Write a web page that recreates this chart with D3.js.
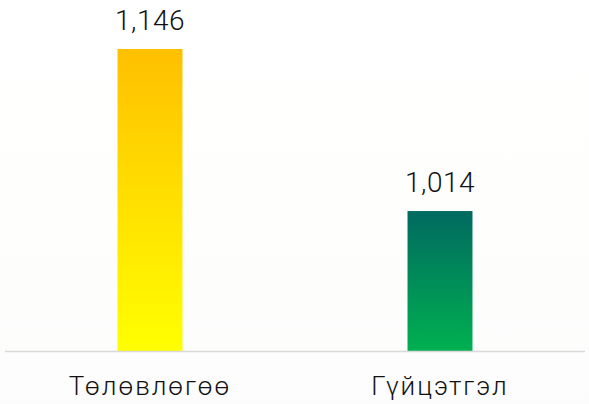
<!DOCTYPE html>
<html>
<head>
<meta charset="utf-8">
<script src="https://cdn.jsdelivr.net/npm/d3@7"></script>
<style>
  html, body { margin: 0; padding: 0; background: #fff; }
</style>
</head>
<body>
<div id="chart"></div>
<script>
// Chart data
const categories = ['Төлөвлөгөө', 'Гүйцэтгэл'];
const values = [1146, 1014];
const topColors = ['#ffc000', '#006a60'];
const bottomColors = ['#ffff00', '#00b050'];

const width = 589;
const height = 404;
const baseY = 351;

const svg = d3.select('#chart')
  .append('svg')
  .attr('width', width)
  .attr('height', height);

const defs = svg.append('defs');

// faint background tint
const bg = defs.append('linearGradient')
  .attr('id', 'bg')
  .attr('x1', 0).attr('y1', 0).attr('x2', 0).attr('y2', 1);
bg.append('stop').attr('offset', '0%').attr('stop-color', '#ffffff');
bg.append('stop').attr('offset', '55%').attr('stop-color', '#fefefd');
bg.append('stop').attr('offset', '100%').attr('stop-color', '#fbfcfb');

svg.append('rect')
  .attr('width', width)
  .attr('height', height)
  .attr('fill', 'url(#bg)');

// gradients for bars
categories.forEach((c, i) => {
  const g = defs.append('linearGradient')
    .attr('id', 'bar' + i)
    .attr('x1', 0).attr('y1', 0).attr('x2', 0).attr('y2', 1);
  g.append('stop').attr('offset', '0%').attr('stop-color', topColors[i]);
  g.append('stop').attr('offset', '100%').attr('stop-color', bottomColors[i]);
});

const x = d3.scaleBand()
  .domain(categories)
  .range([5, 585])
  .paddingInner(0.776)
  .paddingOuter(0.388);

const y = d3.scaleLinear()
  .domain([900, 1146])
  .range([baseY, 49]);

const data = categories.map((c, i) => ({ cat: c, value: values[i], i }));

// bars
svg.selectAll('rect.bar')
  .data(data)
  .enter()
  .append('rect')
  .attr('class', 'bar')
  .attr('x', d => x(d.cat))
  .attr('y', d => y(d.value))
  .attr('width', x.bandwidth())
  .attr('height', d => baseY - y(d.value))
  .attr('fill', d => 'url(#bar' + d.i + ')');

// baseline
svg.append('line')
  .attr('x1', 5)
  .attr('x2', 585)
  .attr('y1', baseY + 0.5)
  .attr('y2', baseY + 0.5)
  .attr('stroke', '#d9d9d9')
  .attr('stroke-width', 1.5);

// value labels
svg.selectAll('text.val')
  .data(data)
  .enter()
  .append('text')
  .attr('class', 'val')
  .attr('x', d => x(d.cat) + x.bandwidth() / 2)
  .attr('y', d => y(d.value) - 19)
  .attr('text-anchor', 'middle')
  .style('font-family', 'Roboto, sans-serif')
  .style('font-weight', 300)
  .style('font-size', '28px')
  .style('letter-spacing', '0.5px')
  .style('fill', '#111')
  .text(d => d3.format(',')(d.value));

// category labels
svg.append('g')
  .attr('transform', `translate(0,${baseY})`)
  .call(d3.axisBottom(x).tickSize(0).tickPadding(0))
  .call(g => g.select('.domain').remove())
  .selectAll('text')
  .attr('y', 44)
  .attr('dy', 0)
  .style('font-family', 'Roboto, sans-serif')
  .style('font-weight', 300)
  .style('font-size', '26px')
  .style('letter-spacing', '2px')
  .style('fill', '#111');
</script>
</body>
</html>
